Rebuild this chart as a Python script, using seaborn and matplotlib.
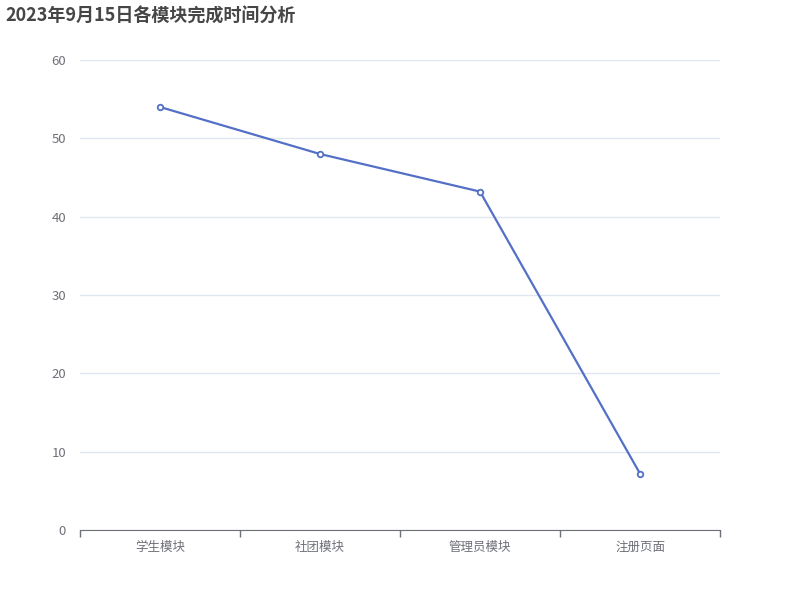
import matplotlib
matplotlib.use('Agg')
import matplotlib.pyplot as plt
import seaborn as sns
import pandas as pd

modules = ['学生模块', '社团模块', '管理员模块', '注册页面']
hours = [54, 48, 43.2, 7.2]
y_ticks = [0, 10, 20, 30, 40, 50, 60]

sns.set_style('white')
plt.rcParams['font.family'] = ['Noto Sans CJK SC', 'DejaVu Sans']

df = pd.DataFrame({'module': modules, 'hours': hours})
df['pos'] = range(len(modules))

fig = plt.figure(figsize=(8, 6), dpi=100)
ax = fig.add_axes([0.1, 70 / 600, 0.8, 470 / 600])

sns.lineplot(data=df, x='pos', y='hours', ax=ax, color='#5470c6', linewidth=1.6,
             marker='o', markersize=4, markerfacecolor='white',
             markeredgecolor='#5470c6', markeredgewidth=1.3)

ax.set_xlim(-0.5, len(modules) - 0.5)
ax.set_ylim(0, 60)
ax.set_yticks(y_ticks)
ax.yaxis.grid(True, color='#E0E6F1', linewidth=1)
ax.set_axisbelow(True)

# 分隔刻度在类别之间，标签居中
ax.set_xticks([i - 0.5 for i in range(len(modules) + 1)])
ax.set_xticklabels([])
ax.set_xticks(df['pos'], minor=True)
ax.set_xticklabels(modules, minor=True)
ax.tick_params(axis='x', which='major', bottom=True, direction='out', length=5,
               color='#6E7079', width=1)
ax.tick_params(axis='x', which='minor', bottom=True, length=0, pad=8, labelsize=9,
               labelcolor='#6E7079')
ax.tick_params(axis='y', length=0, pad=10, labelsize=9.5, labelcolor='#6E7079')

for side in ['top', 'right', 'left']:
    ax.spines[side].set_visible(False)
ax.spines['bottom'].set_color('#6E7079')
ax.set_xlabel('')
ax.set_ylabel('')

fig.text(5 / 800, 1 - 16 / 600, '2023年9月15日各模块完成时间分析', fontsize=13,
         fontweight='bold', color='#464646', va='center', ha='left')

plt.savefig('out.png', dpi=100)
